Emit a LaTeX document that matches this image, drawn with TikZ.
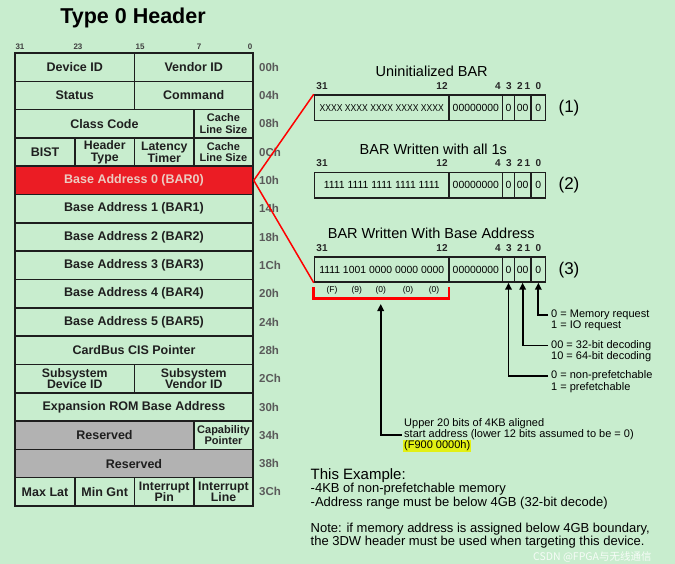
\documentclass[tikz,border=0pt]{standalone}
\usepackage{fontspec}
\setmainfont{Liberation Sans}
\newfontfamily\cjkfont{Noto Sans CJK SC}
\usetikzlibrary{arrows.meta}
\definecolor{bg}{RGB}{200,237,206}
\definecolor{barred}{RGB}{235,28,36}
\definecolor{barpink}{RGB}{236,204,194}
\definecolor{resgray}{RGB}{178,178,178}
\definecolor{linec}{RGB}{30,30,30}
\definecolor{offc}{RGB}{90,90,90}
\definecolor{hilite}{RGB}{226,240,20}
\newcommand{\fs}[2]{\fontsize{#1}{#2}\selectfont}
% register cell: name, x1, x2, row, style, text
\newcommand{\regcell}[6]{%
  \pgfmathsetmacro{\rcW}{#3-#2}%
  \pgfmathsetmacro{\rcY}{53+(#4+0.5)*28.3125}%
  \pgfmathsetmacro{\rcX}{(#2+#3)/2}%
  \node[cell,minimum width=\rcW pt,#5] (#1) at (\rcX,\rcY) {#6};}
% offset label: name, row, text
\newcommand{\regoff}[3]{%
  \pgfmathsetmacro{\rcY}{53+(#2+0.5)*28.3125}%
  \node[offs] (#1) at (259,\rcY) {#3};}
% BAR row: prefix, ytop, ybot, text A
\newcommand{\barrowbox}[4]{%
  \pgfmathsetmacro{\rcY}{(#2+#3)/2}%
  \pgfmathsetmacro{\rcH}{#3-#2}%
  \node[bcell,minimum width=134.5pt,minimum height=\rcH pt] (#1A) at (381.75,\rcY) {#4};
  \node[bcell,minimum width=53.7pt,minimum height=\rcH pt] (#1B) at (475.85,\rcY) {00000000};
  \node[bcell,minimum width=11.6pt,minimum height=\rcH pt] (#1C) at (508.5,\rcY) {0};
  \node[bcell,minimum width=16.7pt,minimum height=\rcH pt] (#1D) at (522.65,\rcY) {00};
  \node[bcell,minimum width=14.7pt,minimum height=\rcH pt] (#1E) at (538.35,\rcY) {0};}
% bit labels: prefix, y
\newcommand{\bitlabels}[2]{%
  \node[bitl] (#1n31) at (322,#2) {31};
  \node[bitl] (#1n12) at (442,#2) {12};
  \node[bitl] (#1n4) at (498,#2) {4};
  \node[bitl] (#1n3) at (509,#2) {3};
  \node[bitl] (#1n2) at (520,#2) {2};
  \node[bitl] (#1n1) at (527.5,#2) {1};
  \node[bitl] (#1n0) at (538.5,#2) {0};}
\begin{document}
\begin{tikzpicture}[x=1pt,y=-1pt,
  cell/.style={draw=linec,line width=1.5pt,fill=bg,inner sep=0pt,align=center,
    minimum height=28.3125pt,text=black!88,font=\bfseries\fs{12.5}{13}},
  two/.style={font=\bfseries\fs{12.3}{11.5}},
  twosmall/.style={font=\bfseries\fs{11}{11.5}},
  offs/.style={anchor=west,inner sep=0pt,text=offc,font=\bfseries\fs{11.5}{12}},
  hbit/.style={inner sep=0pt,text=black!75,font=\bfseries\fs{8}{8}},
  bcell/.style={draw=linec,line width=1.5pt,inner sep=0pt,font=\fs{10.4}{11}},
  bitl/.style={inner sep=0pt,text=black!85,font=\bfseries\fs{10}{11}},
  btitle/.style={inner sep=0pt,font=\fs{14.5}{15}},
  bnum/.style={inner sep=0pt,font=\fs{17}{18}},
  hexl/.style={inner sep=0pt,font=\fs{8.5}{9}},
  redl/.style={draw=red,line width=1.5pt},
  bracketl/.style={draw=red,line width=2.5pt},
  arw/.style={draw=black,line width=1.8pt,-{Triangle[length=7pt,width=6.5pt]}},
  expl/.style={anchor=west,inner xsep=3pt,inner ysep=0pt,font=\fs{11}{12}},
  note/.style={anchor=west,inner sep=0pt,font=\fs{13}{14}}]
\path[fill=bg] (0,0) rectangle (675,564);
% title and header bit numbers
\node[inner sep=0pt,font=\bfseries\fs{21.5}{23}] (title) at (133,18) {Type 0 Header};
\node[hbit] (hb31) at (20,47) {31};
\node[hbit] (hb23) at (78,47) {23};
\node[hbit] (hb15) at (140,47) {15};
\node[hbit] (hb7) at (199,47) {7};
\node[hbit] (hb0) at (250,47) {0};
% header cells
\regcell{devid}{15}{134.5}{0}{}{Device ID}
\regcell{venid}{134.5}{253}{0}{}{Vendor ID}
\regcell{status}{15}{134.5}{1}{}{Status}
\regcell{command}{134.5}{253}{1}{}{Command}
\regcell{classc}{15}{194}{2}{}{Class Code}
\regcell{clsa}{194}{253}{2}{twosmall}{Cache\\Line Size}
\regcell{bist}{15}{75}{3}{}{BIST}
\regcell{htype}{75}{134.5}{3}{two}{Header\\Type}
\regcell{ltimer}{134.5}{194}{3}{two}{Latency\\Timer}
\regcell{clsb}{194}{253}{3}{twosmall}{Cache\\Line Size}
\regcell{bar0}{15}{253}{4}{fill=barred,text=barpink}{Base Address 0 (BAR0)}
\regcell{bar1}{15}{253}{5}{}{Base Address 1 (BAR1)}
\regcell{bar2}{15}{253}{6}{}{Base Address 2 (BAR2)}
\regcell{bar3}{15}{253}{7}{}{Base Address 3 (BAR3)}
\regcell{bar4}{15}{253}{8}{}{Base Address 4 (BAR4)}
\regcell{bar5}{15}{253}{9}{}{Base Address 5 (BAR5)}
\regcell{cis}{15}{253}{10}{}{CardBus CIS Pointer}
\regcell{ssdev}{15}{134.5}{11}{two}{Subsystem\\Device ID}
\regcell{ssven}{134.5}{253}{11}{two}{Subsystem\\Vendor ID}
\regcell{rom}{15}{253}{12}{}{Expansion ROM Base Address}
\regcell{resa}{15}{194}{13}{fill=resgray}{Reserved}
\regcell{cap}{194}{253}{13}{twosmall}{Capability\\Pointer}
\regcell{resb}{15}{253}{14}{fill=resgray}{Reserved}
\regcell{maxlat}{15}{75}{15}{}{Max Lat}
\regcell{mingnt}{75}{134.5}{15}{}{Min Gnt}
\regcell{intpin}{134.5}{194}{15}{two}{Interrupt\\Pin}
\regcell{intline}{194}{253}{15}{two}{Interrupt\\Line}
% offsets
\regoff{o00}{0}{00h}
\regoff{o04}{1}{04h}
\regoff{o08}{2}{08h}
\regoff{o0C}{3}{0Ch}
\regoff{o10}{4}{10h}
\regoff{o14}{5}{14h}
\regoff{o18}{6}{18h}
\regoff{o1C}{7}{1Ch}
\regoff{o20}{8}{20h}
\regoff{o24}{9}{24h}
\regoff{o28}{10}{28h}
\regoff{o2C}{11}{2Ch}
\regoff{o30}{12}{30h}
\regoff{o34}{13}{34h}
\regoff{o38}{14}{38h}
\regoff{o3C}{15}{3Ch}
% BAR diagrams
\node[btitle] (t1) at (431.7,71.7) {Uninitialized BAR};
\bitlabels{b1}{86}
\barrowbox{b1}{95}{120.7}{\scalebox{0.86}[1]{\fs{10}{11}XXXX XXXX XXXX XXXX XXXX}}
\node[bnum] (n1) at (569,108) {(1)};
\node[btitle] (t2) at (433.3,149) {BAR Written with all 1s};
\bitlabels{b2}{163}
\barrowbox{b2}{172.7}{198}{1111 1111 1111 1111 1111}
\node[bnum] (n2) at (569,185.5) {(2)};
\node[btitle] (t3) at (431.3,233) {BAR Written With Base Address};
\bitlabels{b3}{248}
\barrowbox{b3}{257}{282}{1111 1001 0000 0000 0000}
\node[bnum] (n3) at (569,270) {(3)};
% red connectors
\draw[redl] (bar0.east) -- (b1A.north west);
\draw[redl] (bar0.east) -- (b3A.south west);
% hex nibble labels and bracket
\node[hexl] (hF) at (332,290.7) {(F)};
\node[hexl] (h9) at (356.7,290.7) {(9)};
\node[hexl] (h0a) at (380.7,290.7) {(0)};
\node[hexl] (h0b) at (408,290.7) {(0)};
\node[hexl] (h0c) at (434,290.7) {(0)};
\coordinate (brL) at (313.5,287.5);
\coordinate (brR) at (449,287.5);
\coordinate (brkTip) at (380.7,304);
\draw[bracketl] (brL) -- (313.5,298.5) -- (449,298.5) -- (brR);
% explanations
\node[expl] (mem0) at (548,315) {0 = Memory request};
\node[expl] (mem1) at (548,326.3) {1 = IO request};
\node[expl] (dec0) at (548,345.5) {00 = 32-bit decoding};
\node[expl] (dec1) at (548,356.8) {10 = 64-bit decoding};
\node[expl] (pf0) at (548,376) {0 = non-prefetchable};
\node[expl] (pf1) at (548,387.3) {1 = prefetchable};
\draw[arw] (mem0.west) -| (b3E.south);
\draw[arw] (dec0.west) -| (b3D.south);
\draw[arw] (pf0.west) -| (b3C.south);
\node[expl,inner xsep=2.5pt] (up1) at (401.5,423.3) {Upper 20 bits of 4KB aligned};
\node[expl,inner xsep=2.5pt] (up2) at (401.5,434.6) {start address (lower 12 bits assumed to be = 0)};
\node[anchor=west,fill=hilite,inner xsep=1pt,inner ysep=1pt,font=\fs{11}{12}] (up3) at (403,446) {(F900 0000h)};
\draw[arw] (up2.west) -| (brkTip);
% example notes
\node[note,font=\fs{15}{16}] (ex0) at (310.5,476) {This Example:};
\node[note] (ex1) at (310.5,489.5) {-4KB of non-prefetchable memory};
\node[note] (ex2) at (310.5,503) {-Address range must be below 4GB (32-bit decode)};
\node[note] (nt1) at (310.5,529) {Note: if memory address is assigned below 4GB boundary,};
\node[note] (nt2) at (310.5,542.5) {the 3DW header must be used when targeting this device.};
\node[anchor=west,inner sep=0pt,text=white,opacity=0.85,font=\cjkfont\fs{10.5}{11}] (wm) at (533,556.5) {CSDN @FPGA与无线通信};
\end{tikzpicture}
\end{document}
